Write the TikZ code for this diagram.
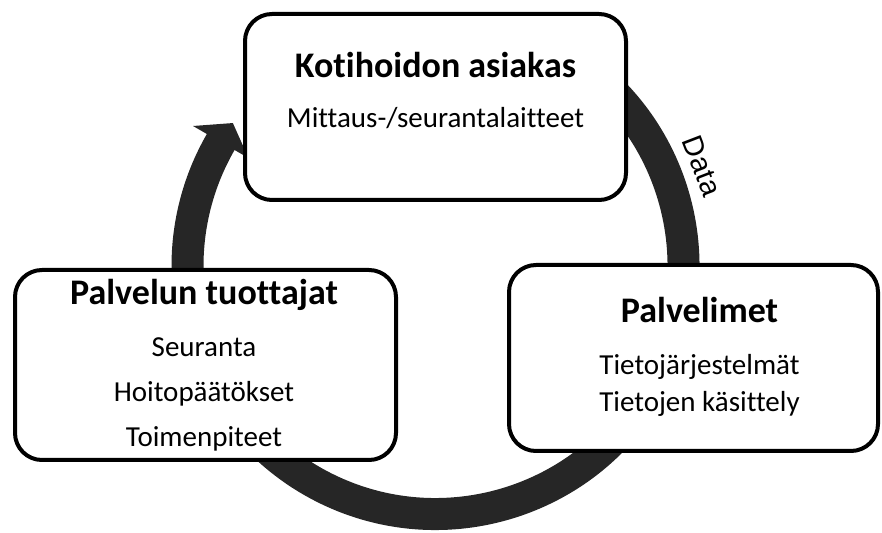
\documentclass[tikz,border=0pt]{standalone}
\usepackage{fontspec}
\setmainfont{Carlito}[Ligatures=NoCommon]
\newfontfamily\datafont{Liberation Sans}
\definecolor{ringgray}{RGB}{38,38,38}
\begin{document}
\begin{tikzpicture}[x=1pt,y=1pt,
  box/.style={draw=black, line width=4pt, fill=white, rounded corners=27pt, inner sep=0pt},
  ttl/.style={anchor=base, inner sep=0pt, font=\fontsize{36}{40}\selectfont\bfseries},
  txt/.style={anchor=base, inner sep=0pt, font=\fontsize{29}{33}\selectfont},
  ring/.style={ringgray, line width=32pt}]
\useasboundingbox (0,0) rectangle (882,532);
\coordinate (c) at (435.5,266);
% circular arrow
\draw[ring] ([shift={(60:248)}]c) arc[start angle=60, end angle=-211, radius=248];
\fill[ringgray] ([shift={(150:280)}]c) -- ([shift={(144.8:248)}]c) -- ([shift={(150:216)}]c) -- cycle;
% boxes
\node[box, minimum width=381pt, minimum height=186pt] (kb) at (435.5,425) {};
\node[box, minimum width=369pt, minimum height=186pt] (pb) at (693.5,174) {};
\node[box, minimum width=381pt, minimum height=190pt] (tb) at (205.5,167) {};
% texts
\node[ttl] (kt) at (435.5,454) {Kotihoidon asiakas};
\node[txt] (k1) at (435.5,404) {Mittaus-/seurantalaitteet};
\node[ttl] (pt) at (699.5,209) {Palvelimet};
\node[txt] (p1) at (699.5,157) {Tietojärjestelmät};
\node[txt] (p2) at (699.5,120) {Tietojen käsittely};
\node[ttl] (tt) at (204,227) {Palvelun tuottajat};
\node[txt] (t1) at (204,175) {Seuranta};
\node[txt] (t2) at (204,130) {Hoitopäätökset};
\node[txt] (t3) at (204,85) {Toimenpiteet};
\node[rotate=-69, inner sep=0pt] (data) at (702,366) {\datafont\fontsize{29}{33}\selectfont Data};
\end{tikzpicture}
\end{document}
